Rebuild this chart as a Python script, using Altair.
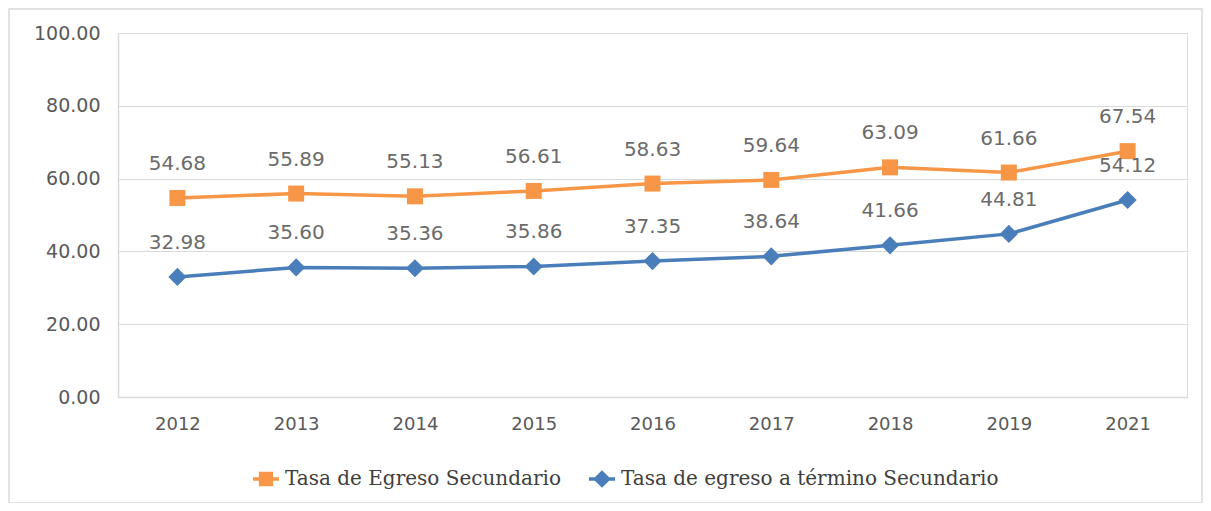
import altair as alt
import pandas as pd

years = ["2012", "2013", "2014", "2015", "2016", "2017", "2018", "2019", "2021"]
egreso = [54.68, 55.89, 55.13, 56.61, 58.63, 59.64, 63.09, 61.66, 67.54]
termino = [32.98, 35.60, 35.36, 35.86, 37.35, 38.64, 41.66, 44.81, 54.12]
series_names = ["Tasa de Egreso Secundario", "Tasa de egreso a término Secundario"]
y_ticks = [0, 20, 40, 60, 80, 100]

colors = ["#F79646", "#4A7EBB"]
shapes_legend = [
    "M-1,-0.13H-0.55V-0.55H0.55V-0.13H1V0.13H0.55V0.55H-0.55V0.13H-1Z",
    "M-1,-0.13H-0.55L0,-0.68L0.55,-0.13H1V0.13H0.55L0,0.68L-0.55,0.13H-1Z",
]

rows = []
for i, yr in enumerate(years):
    rows.append({"year": yr, "value": egreso[i], "serie": series_names[0]})
    rows.append({"year": yr, "value": termino[i], "serie": series_names[1]})
df = pd.DataFrame(rows)

FONT = "DejaVu Sans"
W, H = 1069, 364

x = alt.X("year:O", title=None, sort=years,
          axis=alt.Axis(labelAngle=0, labelFont=FONT, labelFontSize=18, labelColor="#595959",
                        labelPadding=18, ticks=False, domainColor="#d9d9d9", domainWidth=1.5))
y = alt.Y("value:Q", title=None,
          scale=alt.Scale(domain=[0, 100], nice=False),
          axis=alt.Axis(values=y_ticks, format=".2f", labelFont=FONT, labelFontSize=19,
                        labelColor="#595959", labelPadding=18, ticks=False,
                        domainColor="#d9d9d9", domainWidth=1.5, gridColor="#d9d9d9",
                        gridWidth=1.2, minExtent=110, maxExtent=110))
color_scale = alt.Scale(domain=series_names, range=colors)

base = alt.Chart(df)

lines = base.mark_line(strokeWidth=3.5).encode(
    x=x, y=y, color=alt.Color("serie:N", scale=color_scale, legend=None)
)

sq = base.transform_filter(alt.datum.serie == series_names[0]).mark_point(
    shape="square", filled=True, size=256, opacity=1
).encode(x=x, y=y, color=alt.Color("serie:N", scale=color_scale, legend=None))

dm = base.transform_filter(alt.datum.serie == series_names[1]).mark_point(
    shape="diamond", filled=True, size=330, opacity=1
).encode(x=x, y=y, color=alt.Color("serie:N", scale=color_scale, legend=None))

labels = base.mark_text(font=FONT, fontSize=20, color="#6b6b6b", dy=-34, baseline="middle").encode(
    x=x, y=y, text=alt.Text("value:Q", format=".2f")
)

leg = alt.Legend(title=None, orient="none", direction="horizontal",
                 legendX=135, legendY=433, labelFont="DejaVu Serif",
                 labelFontSize=20, labelColor="#404040", labelOffset=6, labelLimit=600,
                 columnPadding=28, symbolSize=676, symbolStrokeWidth=0, symbolOpacity=1)

# legend-only layer: no rows drawn, the legend comes from the explicit scale domains
dummy = base.transform_filter(alt.datum.value < 0).mark_point(filled=True, size=676).encode(
    x=x, y=y,
    color=alt.Color("serie:N", scale=color_scale, legend=leg),
    shape=alt.Shape("serie:N", scale=alt.Scale(domain=series_names, range=shapes_legend),
                    legend=leg),
)

border = alt.Chart(pd.DataFrame({"a": [0]})).mark_rect(
    fill=None, stroke="#d9d9d9", strokeWidth=1.5
).encode(x=alt.value(-109), x2=alt.value(1084), y=alt.value(-24), y2=alt.value(470))

chart = alt.layer(border, lines, sq, dm, labels, dummy).resolve_legend(
    color="independent", shape="independent"
).properties(
    width=W, height=H,
    autosize=alt.AutoSizeParams(type="none"),
    padding={"left": 110, "top": 25, "right": 16, "bottom": 106},
).configure_view(stroke=None).configure(background="white")

chart.save("out.html", embed_options={"renderer": "svg", "actions": False})
